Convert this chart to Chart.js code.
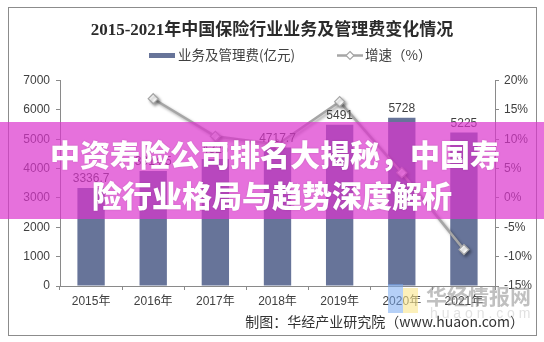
<!DOCTYPE html>
<html>
<head>
<meta charset="utf-8">
<script src="https://cdn.jsdelivr.net/npm/chart.js@4.4.1/dist/chart.umd.min.js"></script>
<style>
  html, body { margin: 0; padding: 0; background: #fff; }
  #wrap { width: 544px; height: 342px; position: relative; }
</style>
</head>
<body>
<div id="wrap"><canvas id="feiyongChart" width="544" height="342"></canvas></div>
<script>
// dados
const anos = ['2015年', '2016年', '2017年', '2018年', '2019年', '2020年', '2021年'];
const feiyong = [3336.7, 3914.5, 4325, 4717.7, 5491, 5728, 5225];   // 业务及管理费(亿元)
const zengsu = [null, 16.9, 10.5, 9.1, 16.4, 4.3, -8.8];              // 增速(%)
const ticksEsq = [0, 7000, 1000];
const ticksDir = [-15, 20, 5];

const corBarra = 'rgb(103, 116, 153)';
const corLinha = '#a6a6a6';
const corEixo = '#8a8a8a';
const corTexto = '#404040';
const fonteNum = "'Liberation Sans', 'Noto Sans CJK SC', sans-serif";
const fonteCJK = "'Noto Sans CJK SC', sans-serif";

// moldura, titulo, legenda, rotulos, faixa e marca d'agua
const decoracao = {
  id: 'decoracao',
  beforeDraw(chart) {
    const ctx = chart.ctx;
    ctx.save();
    ctx.fillStyle = '#fff';
    ctx.fillRect(0, 0, chart.width, chart.height);
    ctx.strokeStyle = '#8c8c8c';
    ctx.lineWidth = 1;
    ctx.strokeRect(8.5, 7.5, 528, 328);

    // titulo
    ctx.fillStyle = '#2b2b2b';
    ctx.font = "bold 17px 'Liberation Serif', 'Noto Sans CJK SC', serif";
    ctx.textAlign = 'center';
    ctx.textBaseline = 'middle';
    ctx.fillText('2015-2021年中国保险行业业务及管理费变化情况', 272, 31);

    // legenda
    ctx.fillStyle = corBarra;
    ctx.fillRect(149, 53, 26, 5);
    ctx.fillStyle = corTexto;
    ctx.font = '13.5px ' + fonteCJK;
    ctx.textAlign = 'left';
    ctx.fillText('业务及管理费(亿元)', 178, 55);
    ctx.strokeStyle = corLinha;
    ctx.lineWidth = 2.5;
    ctx.beginPath();
    ctx.moveTo(337, 55.5);
    ctx.lineTo(363, 55.5);
    ctx.stroke();
    ctx.fillStyle = '#fff';
    ctx.lineWidth = 1.2;
    ctx.beginPath();
    ctx.moveTo(350, 51.5); ctx.lineTo(354, 55.5); ctx.lineTo(350, 59.5); ctx.lineTo(346, 55.5);
    ctx.closePath();
    ctx.fill();
    ctx.stroke();
    ctx.fillStyle = corTexto;
    ctx.fillText('增速（%）', 365, 55);
    ctx.restore();
  },
  beforeDatasetDraw(chart, args) {
    // sombra da linha de crescimento
    if (args.index === 1) {
      const ctx = chart.ctx;
      ctx.save();
      ctx.shadowColor = 'rgba(0, 0, 0, 0.35)';
      ctx.shadowBlur = 3;
      ctx.shadowOffsetX = 2;
      ctx.shadowOffsetY = 2;
    }
  },
  afterDatasetDraw(chart, args) {
    if (args.index === 1) chart.ctx.restore();
  },
  afterDraw(chart) {
    const ctx = chart.ctx;
    ctx.save();

    // rotulos das barras
    const meta = chart.getDatasetMeta(0);
    ctx.fillStyle = corTexto;
    ctx.font = '12px ' + fonteNum;
    ctx.textAlign = 'center';
    ctx.textBaseline = 'bottom';
    meta.data.forEach((bar, i) => {
      ctx.fillText(String(feiyong[i]), bar.x, bar.y - 3);
    });

    // rodape
    ctx.font = '14px ' + fonteCJK;
    ctx.textAlign = 'right';
    ctx.textBaseline = 'middle';
    ctx.fillStyle = '#333';
    ctx.fillText('制图：华经产业研究院（www.huaon.com）', 524, 322);

    // marca d'agua
    ctx.fillStyle = 'rgba(120, 170, 240, 0.55)';
    ctx.fillRect(388, 284, 15, 29);
    ctx.fillStyle = 'rgba(250, 230, 140, 0.6)';
    ctx.fillRect(403, 288, 15, 25);
    ctx.fillStyle = 'rgba(140, 140, 140, 0.55)';
    ctx.font = 'bold 21px ' + fonteCJK;
    ctx.textAlign = 'left';
    ctx.fillText('华经情报网', 426, 296);
    ctx.fillStyle = 'rgba(170, 170, 170, 0.35)';
    ctx.font = '14px ' + fonteNum;
    ctx.fillText('h u a o n . c o m', 430, 314);

    // faixa
    ctx.fillStyle = 'rgba(219, 52, 205, 0.7)';
    ctx.fillRect(0, 122, chart.width, 97);
    ctx.fillStyle = '#fff';
    ctx.font = '900 30px ' + fonteCJK;
    ctx.textAlign = 'center';
    ctx.shadowColor = 'rgba(0, 0, 0, 0.15)';
    ctx.shadowBlur = 2;
    ctx.fillText('中资寿险公司排名大揭秘，中国寿', 275, 155);
    ctx.fillText('险行业格局与趋势深度解析', 272, 196);
    ctx.restore();
  }
};

const ctx = document.getElementById('feiyongChart').getContext('2d');
const feiyongChart = new Chart(ctx, {
  type: 'bar',
  data: {
    labels: anos,
    datasets: [{
      label: '业务及管理费(亿元)',
      data: feiyong,
      backgroundColor: corBarra,
      barPercentage: 0.44,
      categoryPercentage: 1,
      yAxisID: 'y',
      order: 2
    }, {
      type: 'line',
      label: '增速（%）',
      data: zengsu,
      borderColor: corLinha,
      borderWidth: 2.5,
      pointStyle: 'rectRot',
      pointRadius: 5,
      pointBackgroundColor: '#fff',
      pointBorderColor: corLinha,
      pointBorderWidth: 1.2,
      tension: 0,
      yAxisID: 'y1',
      order: 1
    }]
  },
  options: {
    responsive: false,
    animation: false,
    layout: { padding: { top: 80.5, left: 0, right: 0, bottom: 0 } },
    plugins: {
      legend: { display: false },
      title: { display: false },
      tooltip: { enabled: false }
    },
    scales: {
      x: {
        offset: true,
        grid: { offset: true, drawOnChartArea: false, drawTicks: true, tickLength: 4, color: corEixo },
        border: { color: corEixo },
        ticks: { color: corTexto, font: { size: 12, family: fonteNum }, padding: 4 },
        afterFit(scale) { scale.height = 56; }
      },
      y: {
        position: 'left',
        min: ticksEsq[0],
        max: ticksEsq[1],
        grid: { drawOnChartArea: false, drawTicks: true, tickLength: 4, color: corEixo },
        border: { color: corEixo },
        ticks: {
          stepSize: ticksEsq[2],
          color: corTexto,
          font: { size: 12, family: fonteNum },
          padding: 6,
          callback: v => String(v)
        },
        afterFit(scale) { scale.width = 60; }
      },
      y1: {
        position: 'right',
        min: ticksDir[0],
        max: ticksDir[1],
        grid: { drawOnChartArea: false, drawTicks: true, tickLength: 4, color: corEixo },
        border: { color: corEixo },
        ticks: {
          stepSize: ticksDir[2],
          color: corTexto,
          font: { size: 12, family: fonteNum },
          padding: 5,
          callback: v => v + '%'
        },
        afterFit(scale) { scale.width = 49; }
      }
    }
  },
  plugins: [decoracao]
});
</script>
</body>
</html>
